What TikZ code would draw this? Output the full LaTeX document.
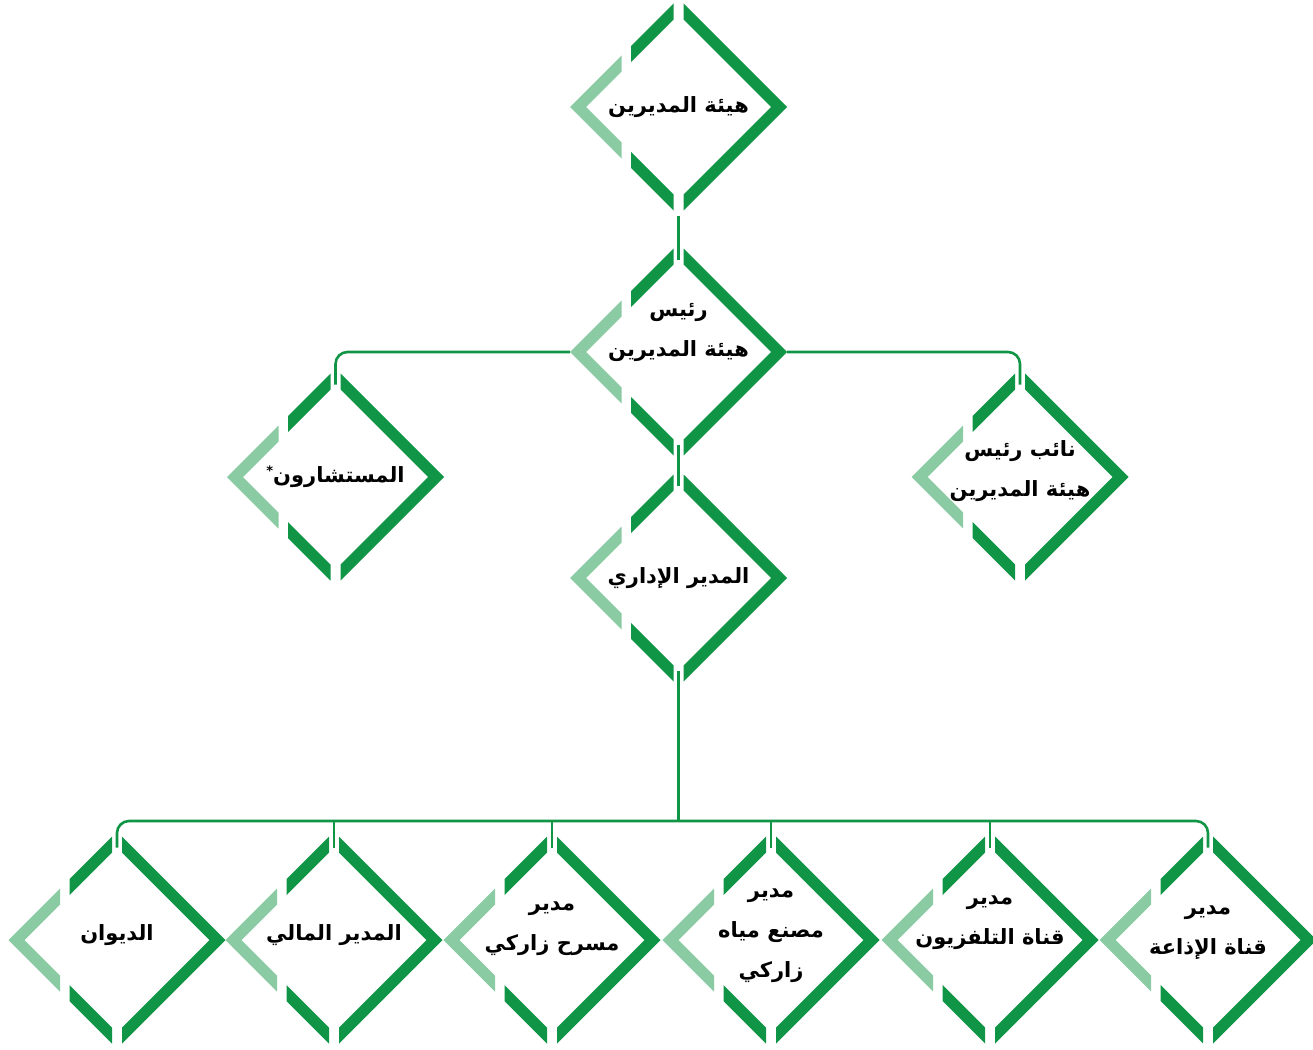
\documentclass[tikz,border=0pt]{standalone}
\usepackage{fontspec}
\newfontfamily\arabicfont[Script=Arabic]{DejaVu Sans}
\TeXXeTstate=1
\usepackage{tikz}
\usetikzlibrary{calc}
\definecolor{orggreen}{RGB}{16, 148, 70}
\definecolor{orglight}{RGB}{138, 203, 163}

\newcommand{\ar}[1]{\beginR #1\endR}
\newcommand{\orgdiamond}[5][0]{%
  \node[orgtext] (#2) at (#3,#4+#1) {#5};
  \coordinate (#2-n) at (#3,#4-92.5);
  \coordinate (#2-s) at (#3,#4+92.5);
  \coordinate (#2-b) at (#3,#4+108.5);
  \coordinate (#2-w) at (#3-108.5,#4);
  \coordinate (#2-e) at (#3+108.5,#4);
  \begin{scope}[shift={(#3,#4)}]
    \fill[orggreen] (5,-103.5) -- (108.5,0) -- (5,103.5) -- (5,87.5) -- (92.5,0) -- (5,-87.5) -- cycle;
    \fill[orggreen] (-5,-103.5) -- (-47.5,-61) -- (-47.5,-45) -- (-5,-87.5) -- cycle;
    \fill[orggreen] (-5,103.5) -- (-47.5,61) -- (-47.5,45) -- (-5,87.5) -- cycle;
    \fill[orglight] (-57,-51.5) -- (-108.5,0) -- (-57,51.5) -- (-57,35.5) -- (-92.5,0) -- (-57,-35.5) -- cycle;
  \end{scope}
}

\begin{document}
\begin{tikzpicture}[x=1pt, y=-1pt,
  orgtext/.style={font=\arabicfont\bfseries\fontsize{21}{40}\selectfont, align=center, inner sep=0pt, text=black},
  conn/.style={draw=orggreen, line width=2.6pt, rounded corners=12pt}
]
  \useasboundingbox (0,0) rectangle (1313,1049);

  \orgdiamond{board}{678.5}{107}{\ar{هيئة المديرين}}
  \orgdiamond[-20]{chair}{678.5}{352}{\ar{رئيس}\\\ar{هيئة المديرين}}
  \orgdiamond{advisors}{335.5}{477}{\ar{المستشارون\raisebox{7pt}{\fontsize{13}{13}\selectfont *}}}
  \orgdiamond[-6]{vicechair}{1020}{477}{\ar{نائب رئيس}\\\ar{هيئة المديرين}}
  \orgdiamond{admin}{678.5}{578}{\ar{المدير الإداري}}

  \orgdiamond[-5]{diwan}{117}{940}{\ar{الديوان}}
  \orgdiamond[-5]{finance}{334}{940}{\ar{المدير المالي}}
  \orgdiamond[-11]{theatre}{552}{940}{\ar{مدير}\\\ar{مسرح زاركي}}
  \orgdiamond[-4]{water}{771}{940}{\ar{مدير}\\\ar{مصنع مياه}\\\ar{زاركي}}
  \orgdiamond[-17]{tv}{990}{940}{\ar{مدير}\\\ar{قناة التلفزيون}}
  \orgdiamond[-7]{radio}{1208}{940}{\ar{مدير}\\\ar{قناة الإذاعة}}

  \coordinate (bus) at (678.5,821);
  \draw[conn] (board-b) -- (chair-n);
  \draw[conn] (chair-w) -| (advisors-n);
  \draw[conn] (chair-e) -| (vicechair-n);
  \draw[conn] (chair-s) -- (admin-n);
  \draw[conn] (admin-s) -- (bus);
  \draw[conn] (diwan-n) |- (bus) -| (radio-n);
  \foreach \unit in {finance, theatre, water, tv}
    \draw[conn] (\unit-n) -- (\unit-n |- bus);
\end{tikzpicture}
\end{document}
